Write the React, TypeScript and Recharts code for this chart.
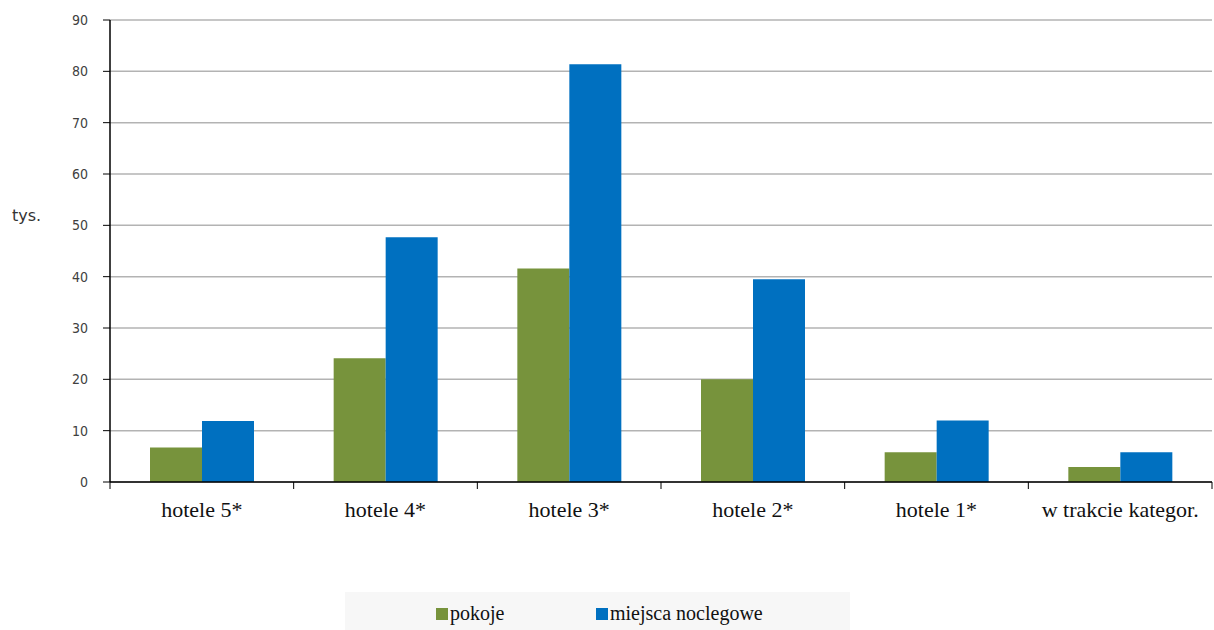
import { BarChart, Bar, XAxis, YAxis, CartesianGrid } from 'recharts'

// ─── Dane ────────────────────────────────────────────────────────────────────
const kategorie = ['hotele 5*', 'hotele 4*', 'hotele 3*', 'hotele 2*', 'hotele 1*', 'w trakcie kategor.']
const pokoje = [6.7, 24.1, 41.6, 20.0, 5.8, 2.9]
const miejsca = [11.9, 47.7, 81.4, 39.5, 12.0, 5.8]
const ticksY = [0, 10, 20, 30, 40, 50, 60, 70, 80, 90]

const ZIELONY = '#77933C'
const NIEBIESKI = '#0070C0'

const dane = kategorie.map((k, i) => ({ kat: k, pokoje: pokoje[i], miejsca: miejsca[i] }))

// szerokość kategorii (pole wykresu 1102px / 6)
const BAND = 1102 / kategorie.length
const OS_X = 482 // położenie osi X (dół pola wykresu)

function TickKategorii(props: any) {
  const { x, payload, index } = props
  const pol = payload?.offset || BAND / 2
  return (
    <g>
      <line x1={x - pol} x2={x - pol} y1={OS_X} y2={OS_X + 7} stroke="#000" strokeWidth={1} />
      {index === kategorie.length - 1 && (
        <line x1={x + pol} x2={x + pol} y1={OS_X} y2={OS_X + 7} stroke="#000" strokeWidth={1} />
      )}
      <text x={x} y={OS_X + 35} textAnchor="middle" fontFamily="'Liberation Serif', 'Times New Roman', serif" fontSize={22} fill="#111">
        {payload.value}
      </text>
    </g>
  )
}

export default function App() {
  return (
    <div style={{ position: 'absolute', left: 0, top: 0, width: 1214, height: 630, background: '#fff' }}>
      <BarChart
        width={1214}
        height={630}
        data={dane}
        margin={{ top: 20, right: 2, left: 50, bottom: 108 }}
        barCategoryGap={40}
        barGap={0}
      >
        <CartesianGrid vertical={false} stroke="#b3b3b3" strokeWidth={1.5} />
        <XAxis
          dataKey="kat"
          height={40}
          axisLine={{ stroke: '#000', strokeWidth: 1.5 }}
          tickLine={false}
          tick={<TickKategorii />}
          interval={0}
        />
        <YAxis
          width={60}
          domain={[0, 90]}
          ticks={ticksY}
          interval={0}
          axisLine={{ stroke: '#000', strokeWidth: 1.5 }}
          tickLine={{ stroke: '#000' }}
          tickSize={7}
          tickMargin={15}
          tick={{ fontSize: 14, fill: '#404040', fontFamily: "'DejaVu Sans Condensed', 'DejaVu Sans', sans-serif" }}
        />
        <Bar dataKey="pokoje" fill={ZIELONY} isAnimationActive={false} />
        <Bar dataKey="miejsca" fill={NIEBIESKI} isAnimationActive={false} />
      </BarChart>

      <div style={{ position: 'absolute', left: 12, top: 206, fontFamily: "'DejaVu Sans', sans-serif", fontSize: 16, color: '#333' }}>
        tys.
      </div>

      <div
        style={{
          position: 'absolute', left: 345, top: 592, width: 505, height: 38, background: '#f7f7f7',
          fontFamily: "'Liberation Serif', serif", fontSize: 20, color: '#111', lineHeight: '22px',
        }}
      >
        <span style={{ position: 'absolute', left: 91, top: 16, width: 12, height: 12, background: ZIELONY }} />
        <span style={{ position: 'absolute', left: 105, top: 10, fontFamily: "'Liberation Serif', serif" }}>pokoje</span>
        <span style={{ position: 'absolute', left: 251, top: 16, width: 12, height: 12, background: NIEBIESKI }} />
        <span style={{ position: 'absolute', left: 265, top: 10, fontFamily: "'Liberation Serif', serif" }}>miejsca noclegowe</span>
      </div>
    </div>
  )
}
